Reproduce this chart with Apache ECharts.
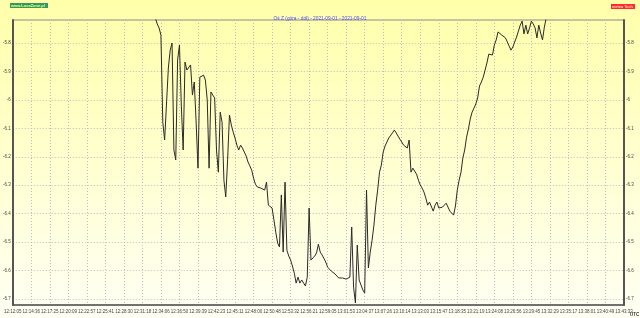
<!DOCTYPE html>
<html><head><meta charset="utf-8">
<script src="https://cdn.jsdelivr.net/npm/echarts@6/dist/echarts.min.js"></script>
<style>html,body{margin:0;padding:0;background:#fff;}#c{width:640px;height:318px;}</style>
</head><body><div id="c"></div>
<script>
const titleText = 'Oś Z (góra - dół) - 2021-09-01 - 2021-09-01';
const timeLabels = ['12:12:05','12:14:36','12:17:25','12:20:09','12:22:57','12:25:41','12:28:30','12:31:18','12:34:06','12:36:50','12:39:39','12:42:23','12:45:11','12:48:00','12:50:48','12:53:32','12:56:21','12:59:05','13:01:53','13:04:37','13:07:26','13:10:14','13:13:03','13:15:47','13:18:35','13:21:19','13:24:08','13:26:56','13:29:45','13:32:29','13:35:17','13:38:01','13:40:49','13:43:33'];
const yTicks = [-5.8,-5.9,-6.0,-6.1,-6.2,-6.3,-6.4,-6.5,-6.6,-6.7];
const stepsPerLabel = 10;
const firstIndex = 76;
const values = [
-5.666,-5.712,-5.733,-5.747,-5.772,-6.078,-6.141,-6.148,-5.888,-5.825,
-5.800,-6.176,-6.211,-5.860,-5.807,-6.018,-6.176,-5.867,-5.895,-5.902,
-5.877,-5.983,-5.937,-6.078,-6.240,-5.920,-5.916,-5.913,-5.930,-6.000,
-6.240,-5.972,-5.983,-5.993,-6.176,-6.254,-6.043,-6.078,-6.282,-6.341,
-6.211,-6.053,-6.088,-6.113,-6.134,-6.159,-6.176,-6.159,-6.169,-6.183,
-6.197,-6.218,-6.232,-6.247,-6.275,-6.296,-6.306,-6.310,-6.310,-6.303,
-6.317,-6.289,-6.370,-6.363,-6.380,-6.422,-6.465,-6.503,-6.517,-6.334,
-6.535,-6.289,-6.528,-6.549,-6.563,-6.584,-6.609,-6.644,-6.623,-6.644,
-6.633,-6.640,-6.654,-6.623,-6.380,-6.563,-6.556,-6.549,-6.538,-6.507,
-6.535,-6.545,-6.552,-6.570,-6.588,-6.591,-6.602,-6.605,-6.612,-6.619,
-6.626,-6.633,-6.626,-6.619,-6.630,-6.633,-6.623,-6.447,-6.658,-6.714,
-6.510,-6.633,-6.626,-6.668,-6.679,-6.317,-6.591,-6.535,-6.493,-6.440,
-6.370,-6.317,-6.254,-6.229,-6.183,-6.162,-6.148,-6.134,-6.134,-6.116,
-6.106,-6.116,-6.127,-6.138,-6.148,-6.159,-6.162,-6.169,-6.141,-6.254,
-6.240,-6.247,-6.261,-6.282,-6.299,-6.310,-6.324,-6.345,-6.370,-6.359,
-6.366,-6.391,-6.370,-6.359,-6.380,-6.387,-6.377,-6.380,-6.363,-6.370,
-6.391,-6.398,-6.405,-6.373,-6.317,-6.282,-6.254,-6.204,-6.176,-6.131,
-6.102,-6.067,-6.043,-6.029,-6.014,-5.993,-5.951,-5.937,-5.920,-5.895,
-5.870,-5.839,-5.832,-5.842,-5.807,-5.789,-5.761,-5.754,-5.772,-5.779,
-5.782,-5.796,-5.811,-5.825,-5.814,-5.796,-5.779,-5.758,-5.737,-5.723,
-5.768,-5.737,-5.768,-5.747,-5.723,-5.733,-5.747,-5.782,-5.737,-5.765,
-5.789,-5.744,-5.712,-5.691,-5.716,-5.702,-5.716,-5.677
];
const yMin = -6.721, yMax = -5.719;

const chart = echarts.init(document.getElementById('c'), null, {renderer:'canvas'});
const data = values.map((v,k)=>[firstIndex+k, v]);
const font = 'Arial, "Liberation Sans", sans-serif';
function yAxisDef(pos){
  return {
    type:'value', position:pos, min:yMin, max:yMax,
    axisLine:{show:true, lineStyle:{color:'#555', width:2}},
    axisTick:{show:false, customValues:yTicks},
    axisLabel:{customValues:yTicks, fontSize:4.5, color:'#444', fontFamily:font, margin:2,
      formatter:v=>{const r=Math.round(v*10)/10; return (r===-6?'-6':r.toFixed(1));}},
    splitLine:{show:pos==='left', lineStyle:{color:'#bdbdbd', type:[1,2], width:1}}
  };
}
chart.setOption({
  animation:false,
  backgroundColor:{type:'linear',x:0,y:0,x2:0,y2:1,colorStops:[{offset:0,color:'#ffffaa'},{offset:1,color:'#fffff4'}]},
  title:{text:titleText, left:'center', top:11, textStyle:{fontSize:4.8, color:'#4b4bff', fontWeight:'normal', fontFamily:font}},
  grid:{left:11, right:16, top:20, bottom:13, show:true, borderColor:'#8a8a8a', borderWidth:1, backgroundColor:'transparent'},
  xAxis:{type:'value', min:0, max:(timeLabels.length-1)*stepsPerLabel, interval:stepsPerLabel,
    axisLine:{show:true, onZero:false, lineStyle:{color:'#555', width:1.5}},
    axisTick:{show:false},
    axisLabel:{fontSize:4.5, color:'#444', fontFamily:font, margin:4, showMinLabel:true, showMaxLabel:true,
      formatter:v=>timeLabels[Math.round(v/stepsPerLabel)]||''},
    splitLine:{show:true, lineStyle:{color:'#bdbdbd', type:[1,2], width:1}}
  },
  yAxis:[yAxisDef('left'), yAxisDef('right')],
  series:[{type:'line', data:data, showSymbol:false, clip:true, yAxisIndex:0,
    lineStyle:{color:'#2a2a2a', width:1}}],
  graphic:[
    {type:'rect', left:10, top:3, shape:{width:38, height:5}, style:{fill:'#2f9a66'}},
    {type:'text', left:11, top:3.5, style:{text:'www.LocaZone.pl', fontSize:4, fill:'#ffff66', fontFamily:font, fontWeight:'bold'}},
    {type:'rect', left:611, top:4, shape:{width:24, height:5}, style:{fill:'#ff2a2a'}},
    {type:'text', left:612, top:4.5, style:{text:'meteo Tech', fontSize:4, fill:'#ffffff', fontFamily:font}},
    {type:'text', left:630, top:312, style:{text:'UTC', fontSize:4.5, fill:'#333', fontFamily:font, fontWeight:'bold'}}
  ]
});
</script></body></html>
